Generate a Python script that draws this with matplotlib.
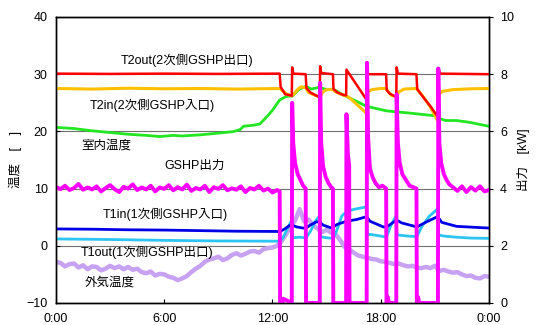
import numpy as np
import matplotlib
matplotlib.use('Agg')
import matplotlib.pyplot as plt

plt.rcParams['font.family'] = ['Liberation Sans', 'Noto Sans CJK JP', 'DejaVu Sans']

# 時刻 [h] と各系列の値
# 外気温度 (0.25h 間隔)
t_out = np.arange(0, 24.01, 0.25)
outdoor = [-2.8, -3.0, -3.6, -3.2, -3.1, -3.8, -3.4, -4.1, -3.6, -3.7, -4.3, -4.0,
           -3.5, -3.9, -3.6, -4.1, -3.7, -4.2, -4.0, -4.6, -4.8, -4.5, -5.2, -4.9,
           -5.0, -5.4, -5.6, -6.0, -5.7, -5.3, -4.6, -4.0, -3.5, -2.8, -2.4, -2.2,
           -1.9, -2.5, -2.2, -1.6, -1.3, -1.7, -1.4, -1.0, -0.9, -1.2, -0.6, -0.4,
           -0.3, 0.0, 0.8, 2.0, 3.4, 4.4, 6.4, 4.3, 4.6, 3.6, 3.0, 2.4,
           2.8, 2.3, 2.0, 1.0, -0.2, -0.6, -1.2, -1.7, -1.9, -2.1, -2.3, -2.4,
           -2.7, -2.8, -3.0, -3.2, -3.1, -3.4, -3.6, -3.5, -3.8, -3.9, -3.7, -3.9,
           -3.5, -4.4, -4.2, -4.5, -4.7, -4.6, -5.0, -5.3, -5.2, -5.6, -5.7, -5.3,
           -5.4]

# GSHP出力 [kW]  0:00-12:15 (0.25h 間隔)
t_gshp_base = np.arange(0, 12.26, 0.25)
gshp_base = [4.05, 3.98, 4.1, 3.95, 4.02, 4.16, 3.96, 4.04, 3.97, 4.08, 3.9, 4.02,
             4.12, 3.98, 3.88, 4.06, 4.0, 4.15, 3.95, 4.04, 3.97, 4.1, 3.9, 4.04,
             3.99, 4.12, 3.94, 4.05, 3.97, 4.14, 3.92, 4.02, 3.97, 4.1, 3.88, 4.05,
             3.99, 4.12, 3.94, 4.01, 3.96, 4.08, 3.88, 4.02, 3.97, 4.1, 3.93, 4.0,
             3.86, 3.95]
# GSHP出力 [kW]  12:24 以降 (発停運転)
t_gshp_ev = [12.40, 12.42, 12.55, 12.6, 13.07, 13.09, 13.15, 13.25, 13.40, 13.55, 13.70, 13.84,
             13.86, 14.62, 14.64, 14.70, 14.80, 14.95, 15.10, 15.25, 15.35,
             15.37, 16.08, 16.10, 16.18, 16.25, 16.27, 17.22, 17.24, 17.30, 17.40,
             17.55, 17.70, 17.90, 18.10, 18.30, 18.32, 18.40, 18.45, 18.86, 18.88, 18.95,
             19.05, 19.20, 19.40, 19.60, 19.80, 19.98, 20.00, 20.08, 20.12, 21.17, 21.19,
             21.25, 21.35, 21.50, 21.65, 21.80, 22.00, 22.25, 22.50, 22.75,
             23.00, 23.25, 23.50, 23.75, 24.00]
gshp_ev = [3.9, 0.0, 0.0, 0.15, 0.0, 7.0, 5.6, 4.9, 4.5, 4.3, 4.1, 4.0,
           0.0, 0.0, 7.7, 5.6, 4.8, 4.4, 4.2, 4.05, 4.0,
           0.0, 0.0, 6.6, 5.2, 4.8, 0.0, 0.0, 8.4, 5.8, 4.7,
           4.4, 4.2, 4.05, 4.1, 4.0, 0.0, 0.2, 0.0, 0.0, 7.3, 5.6,
           4.9, 4.5, 4.3, 4.1, 4.05, 4.0, 0.0, 0.2, 0.0, 0.0, 8.2,
           5.6, 4.9, 4.5, 4.3, 4.15, 4.05, 3.92, 4.08, 3.88,
           4.05, 3.93, 4.08, 3.9, 3.95]

# T2out(2次側GSHP出口) [℃]
t_t2out = [0.0, 3.0, 6.0, 9.0, 12.40, 12.45, 12.7, 13.0, 13.07, 13.09, 13.15, 13.84,
           13.88, 14.1, 14.4, 14.62, 14.64, 14.7, 15.35, 15.38, 15.6, 15.9, 16.08,
           16.10, 17.20, 17.23, 18.30, 18.33, 18.5, 18.86, 18.88, 18.95, 19.98,
           20.02, 20.4, 20.8, 21.15, 21.19, 21.3, 24.0]
t2out = [30.1, 30.05, 30.1, 30.05, 30.1, 27.8, 26.5, 26.3, 26.2, 31.2, 30.1, 30.0,
         27.6, 26.8, 26.3, 26.0, 31.4, 30.2, 30.0, 27.4, 26.8, 26.4, 26.3,
         30.8, 25.6, 30.0, 30.0, 27.2, 26.6, 26.0, 31.2, 30.1, 30.0,
         27.4, 25.8, 24.2, 22.6, 31.0, 30.1, 30.0]

# T2in(2次側GSHP入口) [℃]
t_t2in = [0.0, 2.0, 4.0, 6.0, 8.0, 10.0, 12.4, 12.6, 12.8, 13.07, 13.2, 13.45, 13.6, 13.84,
          14.0, 14.3, 14.62, 14.8, 15.0, 15.35, 15.5, 15.8, 16.08, 16.3, 17.2,
          17.3, 17.5, 18.0, 18.3, 18.45, 18.6, 18.86, 19.0, 19.3, 19.98, 20.3,
          20.7, 21.15, 21.22, 21.4, 22.0, 23.0, 24.0]
t2in = [27.5, 27.4, 27.55, 27.45, 27.5, 27.4, 27.5, 27.0, 26.5, 26.2, 26.6, 27.5, 27.8, 27.6,
        26.8, 26.4, 26.0, 26.9, 27.3, 27.3, 26.9, 26.5, 26.2, 25.8, 23.2,
        26.9, 27.3, 27.5, 27.5, 26.8, 26.3, 26.1, 26.9, 27.4, 27.5, 26.3,
        24.5, 21.9, 26.4, 27.0, 27.3, 27.45, 27.5]

# 室内温度 [℃]
t_room = [0.0, 1.0, 2.0, 3.0, 4.0, 5.0, 5.76, 6.5, 7.0, 8.0, 9.0, 9.8, 10.2, 10.4,
          11.0, 11.3, 11.7, 12.0, 12.4, 12.75, 13.1, 13.5, 13.85, 14.15, 14.6,
          15.0, 15.37, 15.9, 16.7, 17.2, 18.3, 19.6, 21.1, 21.3, 21.6, 22.2,
          22.9, 24.0]
room = [20.7, 20.5, 20.1, 19.8, 19.5, 19.3, 19.1, 19.3, 19.2, 19.4, 19.7, 19.95, 20.3, 20.9,
        21.1, 21.3, 22.6, 23.7, 25.5, 26.1, 26.2, 27.4, 27.9, 27.4, 27.7,
        27.3, 27.4, 26.4, 25.2, 24.4, 23.6, 23.2, 22.7, 22.2, 21.9, 21.9,
        21.6, 20.9]

# T1in(1次側GSHP入口) [℃]
t_t1in = [0.0, 2.0, 4.0, 6.0, 8.0, 10.0, 12.42, 12.7, 12.97, 13.1, 13.34, 13.7, 13.86,
          14.08, 14.45, 14.63, 14.82, 15.28, 15.56, 16.1, 16.67, 17.22, 17.4,
          18.14, 18.33, 18.88, 19.16, 20.0, 20.55, 21.15, 21.38, 22.2, 24.0]
t1in = [2.95, 2.9, 2.8, 2.75, 2.65, 2.55, 2.5, 3.0, 3.6, 3.6, 3.3, 3.1, 3.1,
        3.6, 4.2, 4.1, 3.6, 3.1, 3.7, 4.3, 4.6, 5.1, 4.3,
        3.3, 3.3, 4.5, 4.0, 3.3, 4.2, 5.1, 4.1, 3.4, 3.1]

# T1out(1次側GSHP出口) [℃]
t_t1out = [0.0, 3.0, 6.0, 9.0, 12.42, 12.6, 12.9, 13.07, 13.1, 13.5, 13.86, 14.1, 14.35,
           14.62, 14.66, 15.0, 15.37, 15.55, 15.84, 16.08, 16.3, 16.7, 17.22,
           17.26, 17.4, 18.0, 18.32, 18.55, 18.86, 18.9, 19.5, 20.0, 20.3, 20.7,
           21.17, 21.21, 21.5, 22.2, 23.0, 24.0]
t1out = [1.2, 1.1, 0.95, 0.85, 0.8, 1.5, 3.5, 4.5, 1.4, 1.5, 1.4, 2.5, 4.2,
         5.3, 1.6, 1.4, 1.3, 2.6, 5.2, 5.9, 6.2, 6.5, 6.8,
         1.9, 2.0, 1.7, 1.5, 3.5, 5.3, 1.9, 1.7, 1.6, 3.5, 5.2,
         6.5, 1.9, 1.7, 1.5, 1.35, 1.3]

x_ticks = [0, 6, 12, 18, 24]
x_labels = ['0:00', '6:00', '12:00', '18:00', '0:00']

fig = plt.figure(figsize=(5.42, 3.25), dpi=100)
ax = fig.add_axes([0.1033, 0.0677, 0.7989, 0.88])
ax2 = ax.twinx()

ax.plot(t_out, outdoor, color='#c8a2f2', lw=3.2, zorder=2)
ax.plot(t_t1out, t1out, color='#2cc4f2', lw=2, zorder=3)
ax.plot(t_t1in, t1in, color='#0000e6', lw=2, zorder=4)
ax.plot(t_room, room, color='#22e622', lw=2, zorder=5)
ax.plot(t_t2in, t2in, color='#ffc000', lw=2.2, zorder=6)
ax.plot(t_t2out, t2out, color='#ff0000', lw=1.8, zorder=7)

gshp_t = np.concatenate([t_gshp_base, t_gshp_ev])
gshp = np.concatenate([gshp_base, gshp_ev])
ax2.plot(gshp_t, gshp, color='#ff00ff', lw=2.8)

# 軸
ax.set_xlim(0, 24)
ax.set_ylim(-10, 40)
ax2.set_ylim(0, 10)
ax.set_xticks(x_ticks)
ax.set_xticklabels(x_labels)
ax.set_yticks([-10, 0, 10, 20, 30, 40])
ax2.set_yticks([0, 2, 4, 6, 8, 10])
ax.grid(axis='y', color='#707070', lw=0.8)
ax.set_axisbelow(True)
ax.tick_params(axis='both', direction='in', length=3, labelsize=9, pad=6)
ax.tick_params(axis='x', pad=7)
ax2.tick_params(axis='y', direction='out', length=3, labelsize=9, pad=5)
for a in (ax, ax2):
    for s in a.spines.values():
        s.set_linewidth(1.0)

fig.text(0.028, 0.508, '温度　[　]', rotation=90, ha='center', va='center', fontsize=9)
fig.text(0.966, 0.508, '出力　[kW]', rotation=90, ha='center', va='center', fontsize=9)

# 系列名
fs = 9
ax.text(7.29, 32.5, 'T2out(2次側GSHP出口)', ha='center', va='center', fontsize=fs, zorder=10)
ax.text(5.32, 24.6, 'T2in(2次側GSHP入口)', ha='center', va='center', fontsize=fs, zorder=10)
ax.text(2.80, 17.6, '室内温度', ha='center', va='center', fontsize=fs, zorder=10)
ax.text(7.68, 13.95, 'GSHP出力', ha='center', va='center', fontsize=fs, zorder=10)
ax.text(6.04, 5.56, 'T1in(1次側GSHP入口)', ha='center', va='center', fontsize=fs, zorder=10)
ax.text(5.04, -1.08, 'T1out(1次側GSHP出口)', ha='center', va='center', fontsize=fs, zorder=10)
ax.text(2.99, -6.5, '外気温度', ha='center', va='center', fontsize=fs, zorder=10)

fig.savefig('out.png', dpi=100)
